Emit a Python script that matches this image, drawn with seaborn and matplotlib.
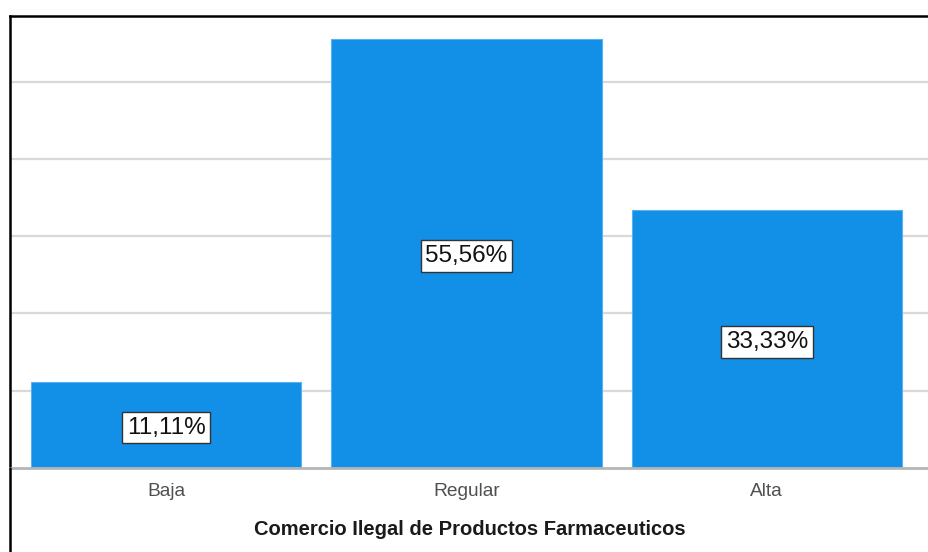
import matplotlib
matplotlib.use("Agg")
import matplotlib.pyplot as plt
import seaborn as sns
import pandas as pd

categories = ["Baja", "Regular", "Alta"]
percentages = [11.11, 55.56, 33.33]
value_labels = ["11,11%", "55,56%", "33,33%"]
xlabel_text = "Comercio Ilegal de Productos Farmaceuticos"

sns.set_theme(style="white")
plt.rcParams['font.family'] = ['Liberation Sans', 'DejaVu Sans']

df = pd.DataFrame({"cat": categories, "pct": percentages})

fig = plt.figure(figsize=(9.29, 5.52), dpi=100)
W, H = 929, 552
left_px, right_px, top_px, base_px = 10, 929, 16, 468
ax = fig.add_axes([left_px / W, (H - base_px) / H, (right_px - left_px) / W, (base_px - top_px) / H])

sns.barplot(data=df, x="cat", y="pct", order=categories, color="#128fe6",
            saturation=1, width=0.9, ax=ax, edgecolor="#5ab2f0", linewidth=0.8, zorder=3)

ax.set_xlim(-0.52, 2.54)
ax.set_ylim(0, 58.5)
ax.set_yticks([10, 20, 30, 40, 50])
ax.yaxis.grid(True, color="#d9d9d9", linewidth=1.6, zorder=0)
ax.set_axisbelow(True)
ax.tick_params(axis='y', left=False, labelleft=False)
ax.tick_params(axis='x', bottom=False, labelsize=13.8, labelcolor="#505050", pad=5)
ax.set_ylabel("")
ax.set_xlabel(xlabel_text, fontsize=14.5, fontweight='bold', color="#1a1a1a", labelpad=14)

ax.spines["right"].set_visible(False)
ax.spines["bottom"].set_color("#b5b5b5")
ax.spines["bottom"].set_linewidth(2)
ax.spines["bottom"].set_zorder(4)
ax.spines["left"].set_color("black")
ax.spines["left"].set_linewidth(1.8)
ax.spines["top"].set_color("black")
ax.spines["top"].set_linewidth(1.8)

for i, (v, lab) in enumerate(zip(percentages, value_labels)):
    ax.text(i, v / 2, lab, ha='center', va='center_baseline', fontsize=17.5, color="#111111", zorder=5,
            bbox=dict(boxstyle="square,pad=0.2", facecolor="white", edgecolor="#333333", linewidth=1))

from matplotlib.lines import Line2D
fig.add_artist(Line2D([left_px / W, left_px / W], [0, (H - base_px) / H], color="black", linewidth=1.8,
                      transform=fig.transFigure))

fig.savefig("out.png", dpi=100)
